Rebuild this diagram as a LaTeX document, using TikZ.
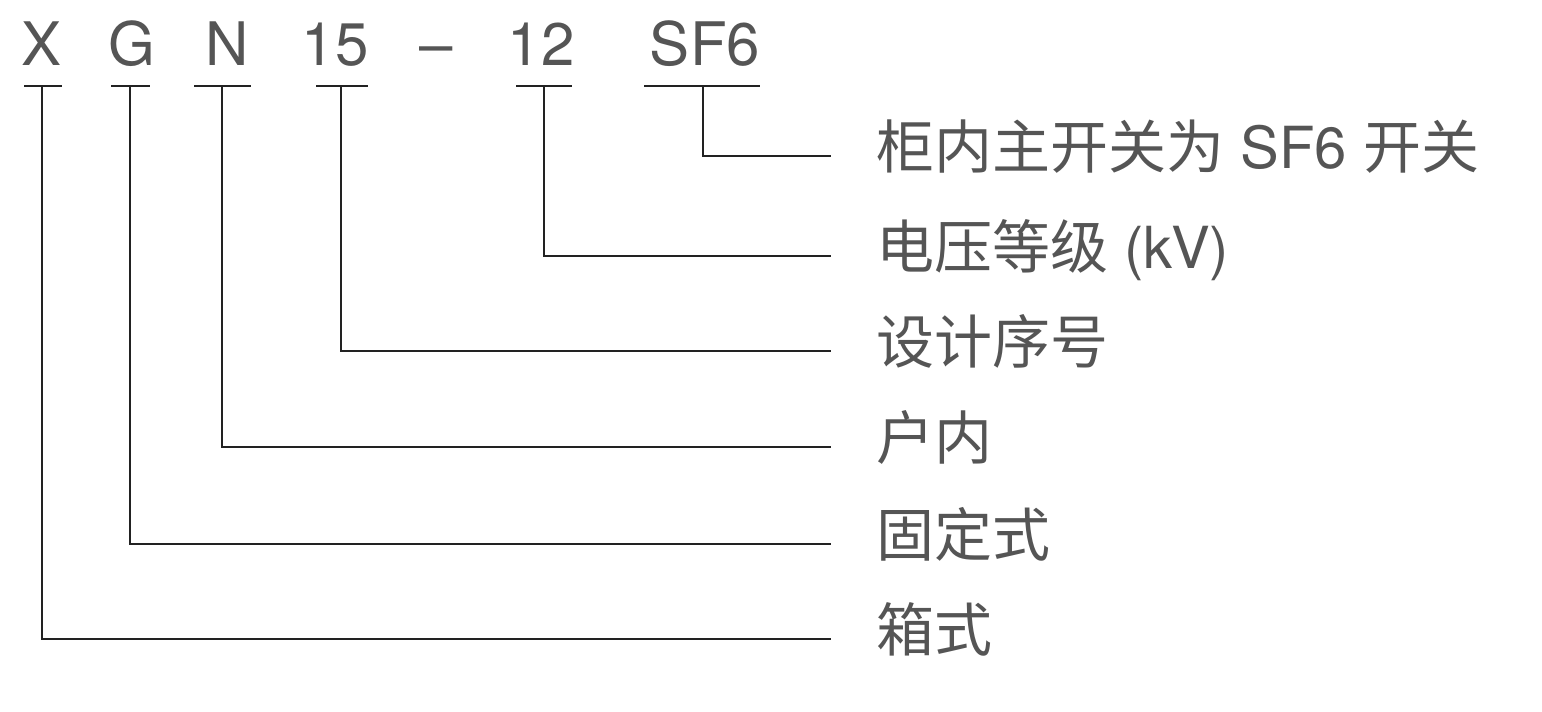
\documentclass[tikz,border=0pt]{standalone}
\usepackage{fontspec}
\setmainfont{TeX Gyre Heros}
\newfontfamily\cjk{Noto Sans CJK SC}
\definecolor{txtgray}{HTML}{555555}
\definecolor{linegray}{HTML}{222222}
\begin{document}
\begin{tikzpicture}[x=0.5pt,y=-0.5pt,
  code/.style={inner sep=0pt,anchor=base,text=txtgray,font=\fontsize{30}{36}\selectfont},
  lbl/.style={inner sep=0pt,anchor=base west,text=txtgray,font=\fontsize{29}{34}\selectfont},
  conn/.style={draw=linegray,line width=0.75pt}]
\useasboundingbox (0,0) rectangle (1542,712);
% top codes
\node[code] (cX) at (42,65) {X};
\node[code] (cG) at (132,65) {G};
\node[code] (cN) at (227,65) {N};
\node[code] (c15) at (335,65) {15};
\node[code] (cdash) at (436,65) {–};
\node[code] (c12) at (541,65) {12};
\node[code] (cSF) at (705,65) {SF6};
% underlines
\coordinate (uX) at (42,86);
\coordinate (uG) at (130,86);
\coordinate (uN) at (222,86);
\coordinate (u15) at (341,86);
\coordinate (u12) at (544,86);
\coordinate (uSF) at (703,86);
\draw[conn] (24,86) -- (62,86);
\draw[conn] (111,86) -- (150,86);
\draw[conn] (194,86) -- (251,86);
\draw[conn] (316,86) -- (368,86);
\draw[conn] (516,86) -- (572,86);
\draw[conn] (644,86) -- (760,86);
% line ends
\coordinate (e1) at (831,156);
\coordinate (e2) at (831,256);
\coordinate (e3) at (831,351);
\coordinate (e4) at (831,447);
\coordinate (e5) at (831,544);
\coordinate (e6) at (831,639);
\draw[conn] (uSF) |- (e1);
\draw[conn] (u12) |- (e2);
\draw[conn] (u15) |- (e3);
\draw[conn] (uN) |- (e4);
\draw[conn] (uG) |- (e5);
\draw[conn] (uX) |- (e6);
% labels
\node[lbl] (l1) at (876,168) {{\cjk 柜内主开关为} SF6 {\cjk 开关}};
\node[lbl] (l2) at (876,268) {{\cjk 电压等级} (kV)};
\node[lbl] (l3) at (876,363) {\cjk 设计序号};
\node[lbl] (l4) at (876,459) {\cjk 户内};
\node[lbl] (l5) at (876,556) {\cjk 固定式};
\node[lbl] (l6) at (876,651) {\cjk 箱式};
\end{tikzpicture}
\end{document}
